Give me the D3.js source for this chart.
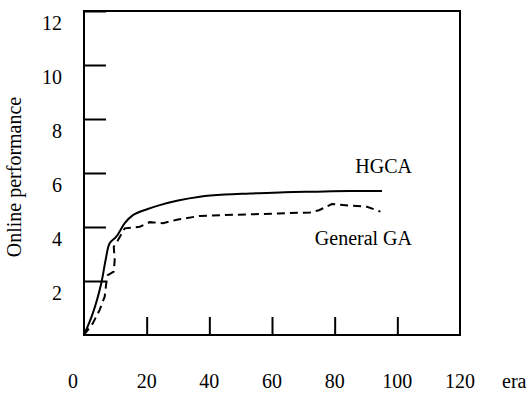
<!DOCTYPE html>
<html>
<head>
<meta charset="utf-8">
<script src="https://cdn.jsdelivr.net/npm/d3@7"></script>
<style>
  body { margin: 0; background: #fff; }
  svg text { font-family: "Liberation Serif", serif !important; font-size: 20px !important; fill: #000; }
</style>
</head>
<body>
<div id="chart"></div>
<script>
// valores
const hgcaX = [0, 2.8, 5.5, 6.9, 8.2, 10.3, 13, 15.6, 19.9, 24.2, 30, 37, 45, 53, 64, 74.3, 85, 95.1];
const hgcaY = [0, 0.8, 1.91, 2.78, 3.4, 3.64, 4.14, 4.44, 4.65, 4.81, 4.98, 5.12, 5.2, 5.24, 5.29, 5.31, 5.33, 5.33];
const gaX = [0, 2.8, 5, 6.6, 7.1, 7.6, 9.5, 9.8, 9.5, 10.3, 13, 17.8, 21, 25.2, 30, 37, 45, 53, 62, 72.2, 75, 79.1, 85, 90.3, 94.6];
const gaY = [0, 0.43, 0.93, 1.42, 1.91, 2.22, 2.35, 2.78, 3.27, 3.4, 3.95, 4.01, 4.18, 4.14, 4.28, 4.41, 4.44, 4.47, 4.5, 4.54, 4.62, 4.85, 4.79, 4.75, 4.57];
const xTicks = [20, 40, 60, 80, 100];
const xLabels = [0, 20, 40, 60, 80, 100, 120];
const yTicks = [2, 4, 6, 8, 10, 12];

const width = 529, height = 393;

const svg = d3.select("#chart").append("svg")
    .attr("width", width)
    .attr("height", height)
    .attr("font-family", "Liberation Serif")
    .attr("font-size", 20);

const x = d3.scaleLinear().domain([0, 120]).range([84, 460]);
const y = d3.scaleLinear().domain([0, 12]).range([335, 11]);

// eixo y, ticks para dentro
const yAxis = svg.append("g")
    .attr("transform", `translate(${x(0)},0)`)
    .call(d3.axisLeft(y).tickValues(yTicks).tickSize(-22).tickPadding(22));
yAxis.attr("font-family", null).attr("font-size", null);
yAxis.select(".domain").remove();
yAxis.selectAll("line").attr("stroke", "#000").attr("stroke-width", 2);
yAxis.selectAll("text")
    .attr("fill", "#000")
    .attr("y", 12);

// eixo x, ticks para cima
const xAxis = svg.append("g")
    .attr("transform", `translate(0,${y(0)})`)
    .call(d3.axisBottom(x).tickValues(xTicks).tickSize(-18).tickFormat(""));
xAxis.attr("font-family", null).attr("font-size", null);
xAxis.select(".domain").remove();
xAxis.selectAll("line").attr("stroke", "#000").attr("stroke-width", 2);

svg.selectAll(".xlabel")
    .data(xLabels)
    .enter()
    .append("text")
    .attr("class", "xlabel")
    .attr("x", d => x(d) - (d === 0 ? 11 : 0))
    .attr("y", 388)
    .attr("text-anchor", "middle")
    .text(d => d);

svg.append("text")
    .attr("x", 502)
    .attr("y", 388)
    .text("era");

svg.append("text")
    .attr("transform", "translate(21,177) rotate(-90)")
    .attr("text-anchor", "middle")
    .text("Online performance");

// moldura
svg.append("rect")
    .attr("x", x(0))
    .attr("y", y(12))
    .attr("width", x(120) - x(0))
    .attr("height", y(0) - y(12))
    .attr("fill", "none")
    .attr("stroke", "#000")
    .attr("stroke-width", 2);

const line = d3.line()
    .x(d => x(d[0]))
    .y(d => y(d[1]));

svg.append("path")
    .datum(hgcaX.map((v, i) => [v, hgcaY[i]]))
    .attr("d", line.curve(d3.curveCatmullRom))
    .attr("fill", "none")
    .attr("stroke", "#000")
    .attr("stroke-width", 2);

svg.append("path")
    .datum(gaX.map((v, i) => [v, gaY[i]]))
    .attr("d", line.curve(d3.curveLinear))
    .attr("fill", "none")
    .attr("stroke", "#000")
    .attr("stroke-width", 2)
    .attr("stroke-dasharray", "8,5");

svg.append("text")
    .attr("x", 412)
    .attr("y", 173)
    .attr("text-anchor", "end")
    .text("HGCA");

svg.append("text")
    .attr("x", 412)
    .attr("y", 245)
    .attr("text-anchor", "end")
    .text("General GA");
</script>
</body>
</html>
